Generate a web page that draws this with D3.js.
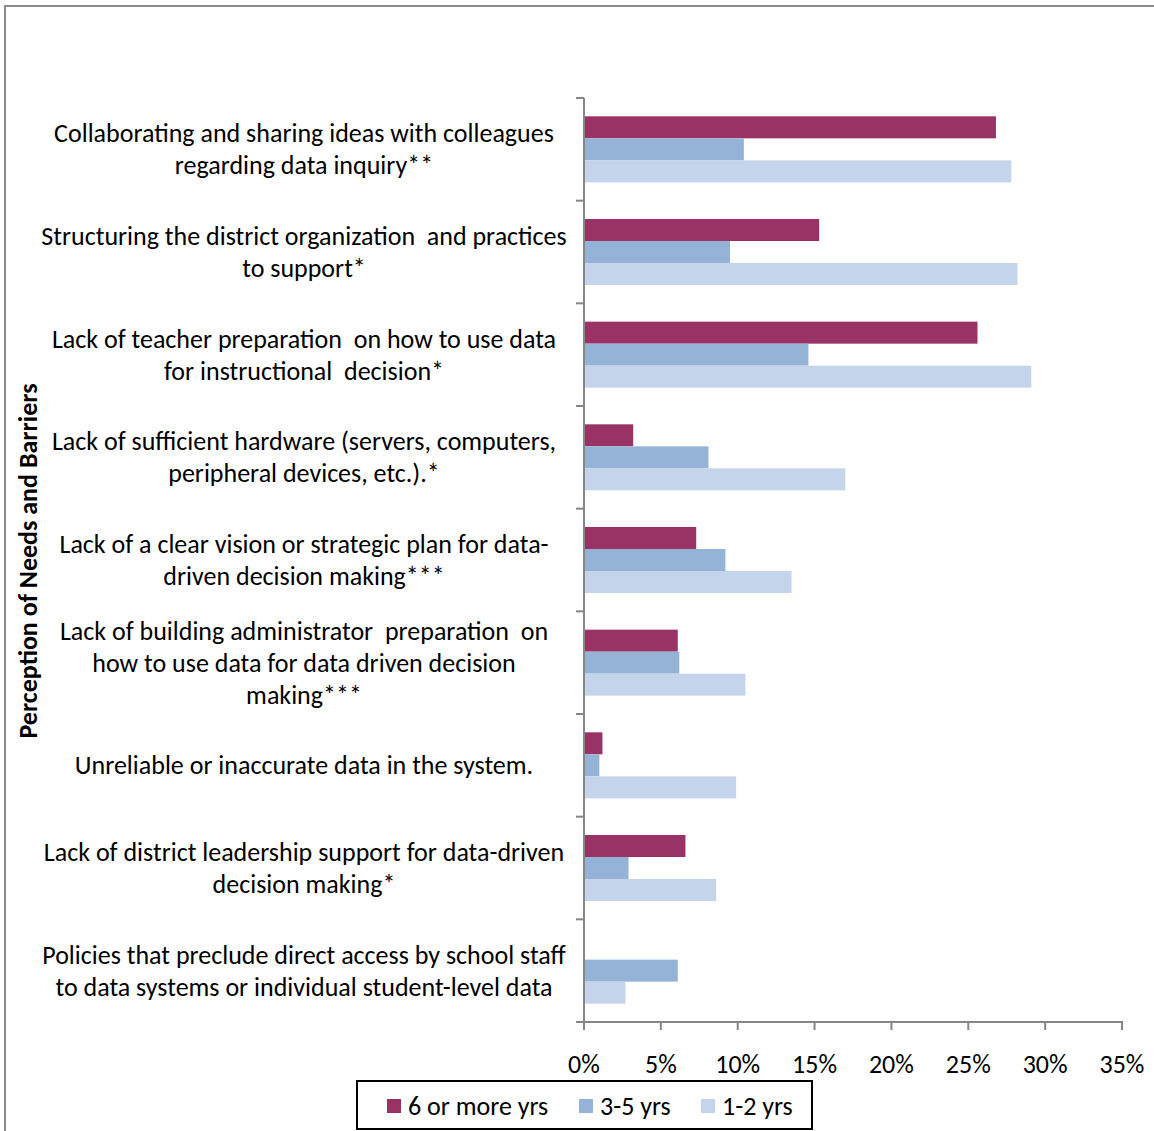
<!DOCTYPE html>
<html>
<head>
<meta charset="utf-8">
<script src="https://cdn.jsdelivr.net/npm/d3@7"></script>
<style>
  html, body { margin: 0; padding: 0; background: #fff; }
  svg { display: block; }
  text { font-family: Carlito, Calibri, Lato, sans-serif; fill: #000; }
</style>
</head>
<body>
<div id="canvas"></div>
<script>
// ----- data -----
const categories = [
  ["Collaborating and sharing ideas with colleagues", "regarding data inquiry**"],
  ["Structuring the district organization  and practices", "to support*"],
  ["Lack of teacher preparation  on how to use data", "for instructional  decision*"],
  ["Lack of sufficient hardware (servers, computers,", "peripheral devices, etc.).*"],
  ["Lack of a clear vision or strategic plan for data-", "driven decision making***"],
  ["Lack of building administrator  preparation  on", "how to use data for data driven decision", "making***"],
  ["Unreliable or inaccurate data in the system."],
  ["Lack of district leadership support for data-driven", "decision making*"],
  ["Policies that preclude direct access by school staff", "to data systems or individual student-level data"]
];
const seriesNames = ["6 or more yrs", "3-5 yrs", "1-2 yrs"];
const sixPlus   = [26.8, 15.3, 25.6, 3.2, 7.3, 6.1, 1.2, 6.6, 0];
const threeFive = [10.4, 9.5, 14.6, 8.1, 9.2, 6.2, 1.0, 2.9, 6.1];
const oneTwo    = [27.8, 28.2, 29.1, 17.0, 13.5, 10.5, 9.9, 8.6, 2.7];
const xTicks = [0, 5, 10, 15, 20, 25, 30, 35];
const colors = ["#993366", "#95b3d7", "#c4d4ea"];

const series = [sixPlus, threeFive, oneTwo];

// ----- layout -----
const width = 1154, height = 1131;
const plot = { left: 584, right: 1122, top: 98, bottom: 1022 };
const fontSize = '26px';

const svg = d3.select('#canvas').append('svg')
  .attr('width', width)
  .attr('height', height);

// outer chart frame
svg.append('rect')
  .attr('x', 5).attr('y', 6)
  .attr('width', width + 10).attr('height', height + 10)
  .attr('fill', 'none')
  .attr('stroke', '#8c8c8c')
  .attr('stroke-width', 2);

const x = d3.scaleLinear().domain([0, 35]).range([plot.left, plot.right]);

const y0 = d3.scaleBand()
  .domain(d3.range(categories.length))
  .range([plot.top, plot.bottom])
  .paddingInner(0.357)
  .paddingOuter(0.1785);

const y1 = d3.scaleBand()
  .domain(d3.range(series.length))
  .range([0, y0.bandwidth()]);

// step for category tick marks
const step = (plot.bottom - plot.top) / categories.length;

// ----- bars -----
const groups = svg.append('g')
  .selectAll('g')
  .data(categories.map((c, i) => i))
  .join('g')
  .attr('transform', i => `translate(0,${y0(i)})`);

groups.selectAll('rect')
  .data(i => series.map((s, k) => ({ k, v: s[i] })))
  .join('rect')
  .attr('x', x(0) + 1)
  .attr('y', d => y1(d.k))
  .attr('width', d => Math.max(0, x(d.v) - x(0) - 1))
  .attr('height', y1.bandwidth())
  .attr('fill', d => colors[d.k]);

// ----- axes -----
const axisColor = '#868686';
const axisG = svg.append('g').attr('stroke', axisColor).attr('stroke-width', 2);

axisG.append('line')
  .attr('x1', plot.left).attr('x2', plot.left)
  .attr('y1', plot.top).attr('y2', plot.bottom + 8);
axisG.append('line')
  .attr('x1', plot.left - 1).attr('x2', plot.right + 1)
  .attr('y1', plot.bottom).attr('y2', plot.bottom);

axisG.selectAll('.ytick')
  .data(d3.range(categories.length + 1))
  .join('line')
  .attr('class', 'ytick')
  .attr('x1', plot.left - 8).attr('x2', plot.left)
  .attr('y1', i => plot.top + i * step)
  .attr('y2', i => plot.top + i * step);

axisG.selectAll('.xtick')
  .data(xTicks)
  .join('line')
  .attr('class', 'xtick')
  .attr('x1', d => x(d)).attr('x2', d => x(d))
  .attr('y1', plot.bottom).attr('y2', plot.bottom + 8);

svg.append('g')
  .selectAll('text')
  .data(xTicks)
  .join('text')
  .attr('x', d => x(d))
  .attr('y', 1073)
  .attr('text-anchor', 'middle')
  .style('font-size', fontSize)
  .text(d => d + '%');

// ----- category labels -----
const lineH = 32;
svg.append('g')
  .selectAll('text')
  .data(categories)
  .join('text')
  .attr('text-anchor', 'middle')
  .style('font-size', fontSize)
  .style('white-space', 'pre')
  .each(function (lines, i) {
    const cy = y0(i) + y0.bandwidth() / 2;
    const t = d3.select(this);
    lines.forEach((ln, j) => {
      t.append('tspan')
        .attr('x', 304)
        .attr('y', cy + (j - (lines.length - 1) / 2) * lineH + 9)
        .text(ln);
    });
  });

// ----- y axis title -----
svg.append('text')
  .attr('transform', `translate(37,${(plot.top + plot.bottom) / 2 + 1}) rotate(-90)`)
  .attr('text-anchor', 'middle')
  .style('font-size', fontSize)
  .style('font-weight', 'bold')
  .text('Perception of Needs and Barriers');

// ----- legend -----
const legend = svg.append('g');
legend.append('rect')
  .attr('x', 357).attr('y', 1081)
  .attr('width', 455).attr('height', 48)
  .attr('fill', '#fff')
  .attr('stroke', '#000')
  .attr('stroke-width', 2);

const legendX = [387, 579, 701];
const items = legend.selectAll('g')
  .data(seriesNames)
  .join('g')
  .attr('transform', (d, i) => `translate(${legendX[i]},1099)`);
items.append('rect')
  .attr('width', 14).attr('height', 14)
  .attr('fill', (d, i) => colors[i]);
items.append('text')
  .attr('x', 21).attr('y', 16)
  .style('font-size', fontSize)
  .text(d => d);
</script>
</body>
</html>
